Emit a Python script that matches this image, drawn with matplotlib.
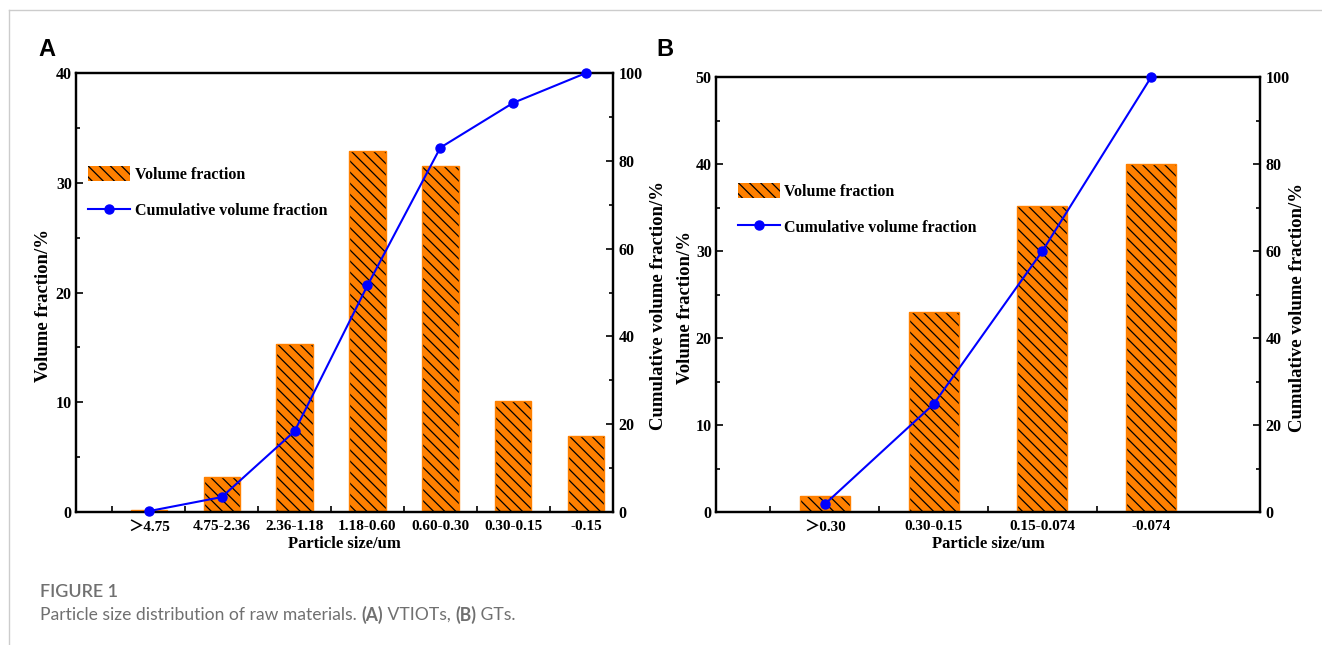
"""
Particle size distribution of raw materials (VTIOTs and GTs).
"""

import numpy as np
import matplotlib
matplotlib.use("Agg")
import matplotlib.pyplot as plt
from matplotlib.lines import Line2D
from matplotlib.ticker import MultipleLocator, FixedLocator

plt.rcParams.update({
    "font.family": ["Liberation Serif", "Noto Sans CJK SC"],
    "font.weight": "bold",
    "hatch.linewidth": 0.9,
    "axes.linewidth": 1.6,
})

# Panel A: VTIOTs
sizes_a = ["\uff1e4.75", "4.75-2.36", "2.36-1.18", "1.18-0.60", "0.60-0.30", "0.30-0.15", "-0.15"]
volume_a = [0.2, 3.2, 15.3, 32.9, 31.5, 10.1, 6.9]
cumulative_a = [0.2, 3.4, 18.4, 51.6, 83.0, 93.2, 100.0]

# Panel B: GTs
sizes_b = ["\uff1e0.30", "0.30-0.15", "0.15-0.074", "-0.074"]
volume_b = [1.8, 23.0, 35.2, 40.0]
cumulative_b = [1.8, 24.8, 60.0, 100.0]

ORANGE = "#FF8000"
BLUE = "#0000FF"
XTICK_FONT = 11
YTICK_FONT = 11.5
XLABEL_FONT = 12
YLABEL_FONT = 13.5


def draw_panel(ax, sizes, volume, cumulative, ymax, xlim, width, legend_anchor):
    x = np.arange(len(sizes))
    bars = ax.bar(x, volume, width=width, color=ORANGE, edgecolor="black",
                  hatch="\\\\\\", linewidth=0, zorder=2, label="Volume fraction")
    ax.bar(x, volume, width=width, fill=False, edgecolor=ORANGE, linewidth=1.0, zorder=3)

    ax.set_xlim(*xlim)
    ax.set_ylim(0, ymax)
    ax.set_xticks(x)
    ax.set_xticklabels(sizes, fontsize=XTICK_FONT, fontweight="bold")
    ax.xaxis.set_minor_locator(FixedLocator(np.arange(-0.5, len(sizes) - 0.5, 1.0)))
    ax.tick_params(axis="x", which="major", length=0, pad=6)
    ax.tick_params(axis="x", which="minor", direction="in", length=4, width=1.2)
    ax.yaxis.set_major_locator(MultipleLocator(10))
    ax.yaxis.set_minor_locator(MultipleLocator(5))
    ax.tick_params(axis="y", which="major", direction="in", length=5, width=1.2,
                   labelsize=YTICK_FONT, pad=3)
    ax.tick_params(axis="y", which="minor", direction="in", length=3, width=1.2)
    for lab in ax.get_yticklabels():
        lab.set_fontweight("bold")
    ax.set_xlabel("Particle size/um", fontsize=XLABEL_FONT, fontweight="bold", labelpad=2)
    ax.set_ylabel("Volume fraction/%", fontsize=YLABEL_FONT, fontweight="bold")

    ax2 = ax.twinx()
    line, = ax2.plot(x, cumulative, color=BLUE, marker="o", markersize=6.5,
                     linewidth=1.5, clip_on=False, zorder=5,
                     label="Cumulative volume fraction")
    ax2.set_ylim(0, 100)
    ax2.yaxis.set_major_locator(MultipleLocator(20))
    ax2.yaxis.set_minor_locator(MultipleLocator(10))
    ax2.tick_params(axis="y", which="major", direction="in", length=5, width=1.2,
                    labelsize=YTICK_FONT, pad=4)
    ax2.tick_params(axis="y", which="minor", direction="in", length=3, width=1.2)
    for lab in ax2.get_yticklabels():
        lab.set_fontweight("bold")
    ax2.set_ylabel("Cumulative volume fraction/%", fontsize=YLABEL_FONT,
                   fontweight="bold")

    ax.legend([bars, line], ["Volume fraction", "Cumulative volume fraction"],
              loc="upper left", bbox_to_anchor=legend_anchor, frameon=False,
              fontsize=11.5, handlelength=2.6, handleheight=1.1, labelspacing=1.2,
              handletextpad=0.3, borderaxespad=0)
    return ax2


fig = plt.figure(figsize=(13.22, 6.45), dpi=100)
ax_a = fig.add_axes([0.0575, 0.2062, 0.4062, 0.6806])
ax_b = fig.add_axes([0.5416, 0.2062, 0.4115, 0.6744])

twin_a = draw_panel(ax_a, sizes_a, volume_a, cumulative_a, 40, (-1.0, 6.37), 0.5,
                    (0.011, 0.803))
twin_b = draw_panel(ax_b, sizes_b, volume_b, cumulative_b, 50, (-1.0, 4.0), 0.46,
                    (0.029, 0.772))

# axis label positions
ax_a.yaxis.set_label_coords(-0.044, 0.47)
twin_a.yaxis.set_label_coords(1.068, 0.47)
ax_b.yaxis.set_label_coords(-0.041, 0.47)
twin_b.yaxis.set_label_coords(1.053, 0.47)

# panel letters
fig.text(38 / 1322, 1 - 50 / 645, "A", family="Liberation Sans", fontsize=17,
         fontweight="bold", va="center", ha="left")
fig.text(656 / 1322, 1 - 50 / 645, "B", family="Liberation Sans", fontsize=17,
         fontweight="bold", va="center", ha="left")

# card border (top and left edges)
fig.add_artist(Line2D([9 / 1322, 9 / 1322], [0, 1 - 10 / 645], color="#cccccc",
                      linewidth=1.0, transform=fig.transFigure))
fig.add_artist(Line2D([9 / 1322, 1], [1 - 10 / 645, 1 - 10 / 645], color="#cccccc",
                      linewidth=1.0, transform=fig.transFigure))

# caption
grey = "#707070"
fig.text(40 / 1322, 1 - 592 / 645, "FIGURE 1", family="Lato", fontsize=13,
         fontweight="semibold", color=grey, va="center", ha="left")

pieces = [("Particle size distribution of raw materials. ", "normal"),
          ("(A)", "bold"), (" VTIOTs, ", "normal"), ("(B)", "bold"), (" GTs.", "normal")]
fig.canvas.draw()
renderer = fig.canvas.get_renderer()
xpos = 40 / 1322
for txt, wt in pieces:
    t = fig.text(xpos, 1 - 615 / 645, txt, family="Lato", fontsize=12.65,
                 fontweight=wt, color=grey, va="center", ha="left")
    bb = t.get_window_extent(renderer=renderer)
    xpos += bb.width / fig.bbox.width

fig.savefig("out.png", dpi=100)
